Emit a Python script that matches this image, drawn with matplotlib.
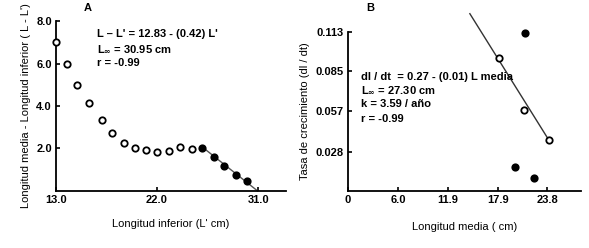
import matplotlib.pyplot as plt
import numpy as np

plt.rcParams['font.family'] = ['Liberation Sans', 'DejaVu Sans']
plt.rcParams['font.weight'] = 'bold'

# panel A data
a_open_x = [13.0, 14.0, 14.9, 15.9, 17.1, 18.0, 19.1, 20.0, 21.05, 22.0, 23.05, 24.05, 25.1]
a_open_y = [7.0, 6.0, 5.0, 4.14, 3.36, 2.71, 2.26, 2.0, 1.91, 1.85, 1.87, 2.08, 1.99]
a_fill_x = [26.0, 27.1, 28.0, 29.05, 30.05]
a_fill_y = [2.04, 1.58, 1.18, 0.77, 0.46]
a_line_x = [26.0, 30.95]
a_line_y = [2.08, 0.0]
a_xticks = [13.0, 22.0, 31.0]
a_yticks = [2.0, 4.0, 6.0, 8.0]

# panel B data
b_open_x = [18.05, 21.05, 24.05]
b_open_y = [0.0947, 0.0579, 0.0364]
b_fill_x = [21.15, 19.95, 22.25]
b_fill_y = [0.1124, 0.0172, 0.0089]
b_line_x = [14.55, 23.9]
b_line_y = [0.126, 0.037]
b_xticks = [0, 6.0, 11.9, 17.9, 23.8]
b_xlabels = ['0', '6.0', '11.9', '17.9', '23.8']
b_yticks = [0.028, 0.057, 0.085, 0.113]

fig = plt.figure(figsize=(5.89, 2.48), dpi=100)
axA = fig.add_axes([0.095, 0.23, 0.391, 0.685])
axB = fig.add_axes([0.591, 0.23, 0.395, 0.641])

for ax in (axA, axB):
    for s in ('top', 'right'):
        ax.spines[s].set_visible(False)
    for s in ('left', 'bottom'):
        ax.spines[s].set_linewidth(1.3)
    ax.tick_params(direction='in', length=3, width=1.2, labelsize=8, pad=3)

mk = dict(ls='none', marker='o', ms=4.6, mew=1.3, mec='black', clip_on=False, zorder=3)

axA.plot(a_line_x, a_line_y, color='#555555', lw=1.0, clip_on=False)
axA.plot(a_open_x, a_open_y, mfc='white', **mk)
axA.plot(a_fill_x, a_fill_y, mfc='black', **mk)
axA.set_xlim(13.0, 33.5)
axA.set_ylim(0, 8.0)
axA.set_xticks(a_xticks)
axA.set_xticklabels(['13.0', '22.0', '31.0'])
axA.set_yticks(a_yticks)
axA.set_yticklabels(['2.0', '4.0', '6.0', '8.0'])
axA.set_xlabel("Longitud inferior (L' cm)", fontsize=8, labelpad=10)
axA.set_ylabel("Longitud media - Longitud inferior ( L - L')", fontsize=8, labelpad=4)
axA.text(0.12, 1.06, 'A', transform=axA.transAxes, fontsize=8)
axA.text(0.18, 0.955, "L – L' = 12.83 - (0.42) L'", transform=axA.transAxes, fontsize=8, va='top')
axA.text(0.18, 0.87, r"L$_{\infty}$ = 30.95 cm", transform=axA.transAxes, fontsize=8, va='top')
axA.text(0.18, 0.785, "r = -0.99", transform=axA.transAxes, fontsize=8, va='top')

axB.plot(b_line_x, b_line_y, color='#333333', lw=1.0, clip_on=False)
axB.plot(b_open_x, b_open_y, mfc='white', **mk)
axB.plot(b_fill_x, b_fill_y, mfc='black', **mk)
axB.set_xlim(0, 27.8)
axB.set_ylim(0, 0.113)
axB.set_xticks(b_xticks)
axB.set_xticklabels(b_xlabels)
axB.set_yticks(b_yticks)
axB.set_yticklabels(['0.028', '0.057', '0.085', '0.113'])
axB.set_xlabel("Longitud media ( cm)", fontsize=8, labelpad=12)
axB.set_ylabel("Tasa de crecimiento (dl / dt)", fontsize=8, labelpad=4)
axB.text(0.08, 1.13, 'B', transform=axB.transAxes, fontsize=8)
axB.text(0.055, 0.72, "dl / dt  = 0.27 - (0.01) L media", transform=axB.transAxes, fontsize=8, va='center')
axB.text(0.055, 0.632, r"L$_{\infty}$ = 27.30 cm", transform=axB.transAxes, fontsize=8, va='center')
axB.text(0.055, 0.545, "k = 3.59 / año", transform=axB.transAxes, fontsize=8, va='center')
axB.text(0.055, 0.455, "r = -0.99", transform=axB.transAxes, fontsize=8, va='center')

fig.savefig('out.png', dpi=100)
